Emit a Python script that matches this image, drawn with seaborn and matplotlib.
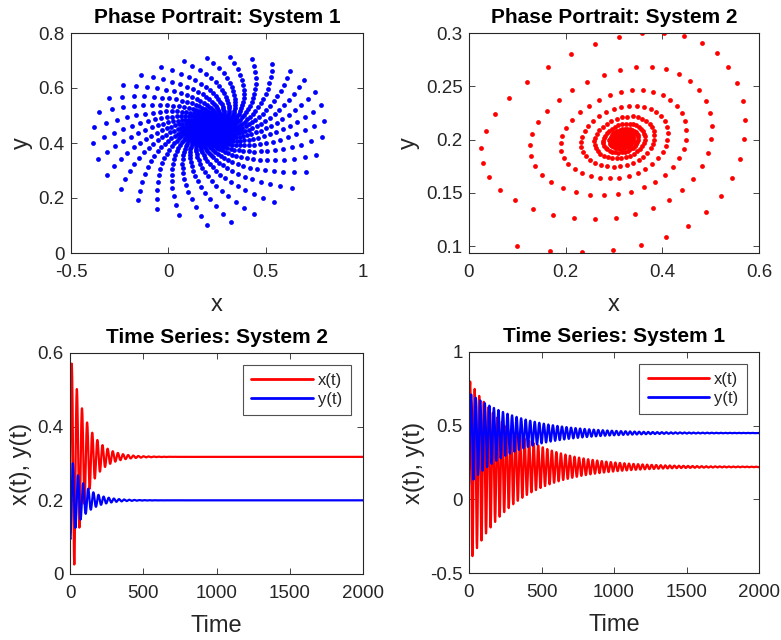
import numpy as np
import pandas as pd
import matplotlib
matplotlib.use("Agg")
import matplotlib.pyplot as plt
import seaborn as sns

# ---- model parameters: damped rotation about a fixed point ----
# orbit shape: aspect = x/y stretch, tilt = x-y coupling,
# bend = one-sided stretching of each coordinate (0 = symmetric)
sys1_center = [0.22, 0.45]
sys1_start = [0.20, 0.10]
sys1_period = 31.3      # steps per revolution
sys1_decay = 0.997      # contraction per step
sys1_aspect = 2.03
sys1_tilt = 0.10
sys1_bend = [0.16, 0.82]

sys2_center = [0.318, 0.20]
sys2_start = [0.10, 0.10]
sys2_period = 35.0
sys2_decay = 0.98945
sys2_aspect = 3.0
sys2_tilt = 0.20
sys2_bend = [1.2, -1.3]

n_steps = 2000

# axis settings
phase1_xlim, phase1_ylim = (-0.5, 1.0), (0.0, 0.8)
phase1_xticks, phase1_yticks = [-0.5, 0, 0.5, 1], [0, 0.2, 0.4, 0.6, 0.8]
phase2_xlim, phase2_ylim = (0.0, 0.6), (0.0935, 0.3)
phase2_xticks, phase2_yticks = [0, 0.2, 0.4, 0.6], [0.1, 0.15, 0.2, 0.25, 0.3]
time_ticks = [0, 500, 1000, 1500, 2000]
ts2_ylim, ts2_yticks = (0, 0.6), [0, 0.2, 0.4, 0.6]
ts1_ylim, ts1_yticks = (-0.5, 1.0), [-0.5, 0, 0.5, 1]


def bend_out(u, lam):
    return u if lam == 0 else (1 - np.exp(-lam * u)) / lam


def bend_in(v, lam):
    return v if lam == 0 else -np.log(1 - lam * v) / lam


def iterate_orbit(center, start, period, decay, aspect, tilt, bend, steps):
    theta = 2 * np.pi / period
    rot = np.array([[np.cos(theta), -np.sin(theta)],
                    [np.sin(theta), np.cos(theta)]])
    shape = np.array([[aspect, 0.0], [tilt, 1.0]])
    step = decay * shape @ rot @ np.linalg.inv(shape)
    c = np.asarray(center, dtype=float)
    off0 = np.asarray(start, dtype=float) - c
    u = np.array([bend_in(off0[0], bend[0]), bend_in(off0[1], bend[1])])
    out = np.empty((steps + 1, 2))
    for k in range(steps + 1):
        out[k] = c + [bend_out(u[0], bend[0]), bend_out(u[1], bend[1])]
        u = step @ u
    return out


orbit1 = iterate_orbit(sys1_center, sys1_start, sys1_period, sys1_decay,
                       sys1_aspect, sys1_tilt, sys1_bend, n_steps)
orbit2 = iterate_orbit(sys2_center, sys2_start, sys2_period, sys2_decay,
                       sys2_aspect, sys2_tilt, sys2_bend, n_steps)
t = np.arange(n_steps + 1)


def long_frame(orbit):
    return pd.concat([
        pd.DataFrame({"Time": t, "value": orbit[:, 0], "var": "x(t)"}),
        pd.DataFrame({"Time": t, "value": orbit[:, 1], "var": "y(t)"}),
    ], ignore_index=True)


sns.set_theme(style="ticks")
plt.rcParams["font.family"] = ["Liberation Sans", "DejaVu Sans"]
axcol = "#262626"
plt.rcParams.update({
    "axes.edgecolor": axcol, "axes.linewidth": 0.8,
    "xtick.color": axcol, "ytick.color": axcol,
    "xtick.labelcolor": axcol, "ytick.labelcolor": axcol,
    "xtick.direction": "in", "ytick.direction": "in",
    "xtick.major.size": 4, "ytick.major.size": 4,
    "xtick.major.width": 0.6, "ytick.major.width": 0.6,
    "xtick.top": True, "ytick.right": True,
    "xtick.labelsize": 13.5, "ytick.labelsize": 13.5,
    "xtick.major.pad": 8, "ytick.major.pad": 4.5,
    "axes.labelcolor": axcol,
})

fig = plt.figure(figsize=(7.81, 6.40), dpi=100)
ax1 = fig.add_axes([71 / 781, 1 - 253 / 640, 292 / 781, 220 / 640])
ax2 = fig.add_axes([469 / 781, 1 - 253 / 640, 290 / 781, 220 / 640])
ax3 = fig.add_axes([70 / 781, 1 - 574 / 640, 293 / 781, 221 / 640])
ax4 = fig.add_axes([469 / 781, 1 - 573 / 640, 290 / 781, 221 / 640])

title_kw = dict(fontsize=15, fontweight="bold", color="black", pad=7)
label_fs = 17
xlabel_pad = 9
ylabel_pad = 4

# phase portraits
sns.scatterplot(x=orbit1[:, 0], y=orbit1[:, 1], ax=ax1, color=(0, 0, 1), s=12,
                linewidth=0, legend=False)
ax1.set(xlim=phase1_xlim, ylim=phase1_ylim, xticks=phase1_xticks, yticks=phase1_yticks)
ax1.set_xticklabels(["-0.5", "0", "0.5", "1"])
ax1.set_yticklabels(["0", "0.2", "0.4", "0.6", "0.8"])
ax1.set_title("Phase Portrait: System 1", **title_kw)
ax1.set_xlabel("x", fontsize=label_fs, labelpad=xlabel_pad)
ax1.set_ylabel("y", fontsize=label_fs, labelpad=ylabel_pad)

sns.scatterplot(x=orbit2[:, 0], y=orbit2[:, 1], ax=ax2, color=(1, 0, 0), s=12,
                linewidth=0, legend=False)
ax2.set(xlim=phase2_xlim, ylim=phase2_ylim, xticks=phase2_xticks, yticks=phase2_yticks)
ax2.set_xticklabels(["0", "0.2", "0.4", "0.6"])
ax2.set_yticklabels(["0.1", "0.15", "0.2", "0.25", "0.3"])
ax2.set_title("Phase Portrait: System 2", **title_kw)
ax2.set_xlabel("x", fontsize=label_fs, labelpad=xlabel_pad)
ax2.set_ylabel("y", fontsize=label_fs, labelpad=ylabel_pad)

palette = {"x(t)": (1, 0, 0), "y(t)": (0, 0, 1)}


def time_panel(ax, orbit, title, ylim, yticks, ylabels):
    sns.lineplot(data=long_frame(orbit), x="Time", y="value", hue="var",
                 palette=palette, estimator=None, sort=False, linewidth=1.6, ax=ax)
    ax.set(xlim=(0, 2000), ylim=ylim, xticks=time_ticks, yticks=yticks)
    ax.set_xticklabels([str(v) for v in time_ticks])
    ax.set_yticklabels(ylabels)
    ax.set_title(title, **title_kw)
    ax.set_xlabel("Time", fontsize=label_fs, labelpad=xlabel_pad)
    ax.set_ylabel("x(t), y(t)", fontsize=label_fs, labelpad=ylabel_pad)
    leg = ax.legend(loc="upper right", bbox_to_anchor=(0.958, 0.946), borderaxespad=0,
                    fontsize=12, handlelength=3.7, handletextpad=0.3,
                    labelspacing=0.2, borderpad=0.5, frameon=True, fancybox=False)
    leg.get_frame().set_edgecolor(axcol)
    leg.get_frame().set_linewidth(0.8)
    for line in leg.get_lines():
        line.set_linewidth(2.0)


time_panel(ax3, orbit2, "Time Series: System 2", ts2_ylim, ts2_yticks,
           ["0", "0.2", "0.4", "0.6"])
time_panel(ax4, orbit1, "Time Series: System 1", ts1_ylim, ts1_yticks,
           ["-0.5", "0", "0.5", "1"])

for ax in (ax1, ax2, ax3, ax4):
    for sp in ax.spines.values():
        sp.set_visible(True)

fig.savefig("out.png", dpi=100)
